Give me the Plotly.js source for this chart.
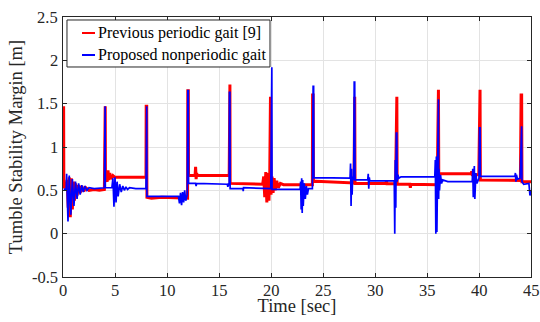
<!DOCTYPE html>
<html>
<head>
<meta charset="utf-8">
<script src="https://cdn.plot.ly/plotly-3.0.1.min.js"></script>
<style>html,body{margin:0;padding:0;background:#fff;}#chart{width:540px;height:322px;}</style>
</head>
<body>
<div id="chart"></div>
<script>
// Previous periodic gait [9] (red)
const prevTime = [0, 0.02, 0.06, 0.08, 0.3, 0.4, 0.5, 0.6, 0.7, 0.8, 0.9, 1.0, 1.1, 1.2, 1.35, 1.5, 1.65, 1.8, 2.0, 2.2, 2.5, 3.0, 3.5, 3.98,
  4.0, 4.06, 4.08, 4.25, 4.33, 4.4, 4.5, 4.6, 4.8, 5.0, 6.5, 7.98,
  8.0, 8.05, 8.07, 8.5, 9.5, 11.98,
  12.0, 12.05, 12.07, 12.7, 12.75, 12.8, 12.85, 12.9, 15.98,
  16.0, 16.05, 16.07, 17.5, 19.2, 19.3, 19.4, 19.5, 19.6, 19.7, 19.8, 19.88,
  19.9, 19.95, 20.0, 20.1, 20.2, 20.3, 20.4, 20.55, 20.7, 20.9, 21.2, 23.98,
  24.0, 24.05, 24.08, 24.3, 27.98,
  28.0, 28.05, 28.08, 31.05, 31.1, 31.15, 31.98,
  32.05, 32.1, 32.13, 33.35, 33.4, 33.45, 35.98,
  36.05, 36.1, 36.13, 39.25, 39.3, 39.35, 39.98,
  40.05, 40.1, 40.13, 43.98,
  44.05, 44.1, 44.13, 45];
const prevMargin = [0.52, 1.47, 1.47, 0.55, 0.53, 0.62, 0.3, 0.65, 0.19, 0.64, 0.28, 0.6, 0.38, 0.58, 0.44, 0.56, 0.47, 0.55, 0.49, 0.53, 0.5, 0.51, 0.5, 0.51,
  1.47, 1.47, 0.65, 0.6, 0.73, 0.62, 0.7, 0.63, 0.67, 0.65, 0.65, 0.65,
  1.47, 1.47, 0.42, 0.41, 0.42, 0.41,
  1.65, 1.65, 0.67, 0.67, 0.77, 0.63, 0.7, 0.67, 0.67,
  1.72, 1.72, 0.58, 0.575, 0.57, 0.66, 0.42, 0.71, 0.36, 0.7, 0.38, 0.68,
  1.58, 1.58, 0.45, 0.66, 0.47, 0.64, 0.5, 0.61, 0.53, 0.58, 0.565, 0.565,
  1.6, 1.6, 0.6, 0.605, 0.585,
  1.58, 1.58, 0.58, 0.58, 0.61, 0.575, 0.575,
  1.58, 1.58, 0.57, 0.57, 0.53, 0.57, 0.565,
  1.66, 1.66, 0.69, 0.69, 0.72, 0.68, 0.68,
  1.66, 1.66, 0.62, 0.615,
  1.6, 1.6, 0.6, 0.6];

// Proposed nonperiodic gait (blue)
const propTime = [0.08, 0.3, 0.35, 0.48, 0.6, 0.75, 0.9, 1.05, 1.2, 1.35, 1.5, 1.65, 1.8, 1.95, 2.1, 2.3, 2.5, 3.0, 3.98,
  4.0, 4.05, 4.07, 4.7, 4.8, 4.9, 5.0, 5.1, 5.2, 5.3, 5.45, 5.6, 5.75, 5.9, 6.05, 6.2, 6.4, 7.0, 7.98,
  8.0, 8.05, 8.07, 11.1, 11.2, 11.3, 11.4, 11.5, 11.6, 11.7, 11.8, 11.95,
  12.0, 12.05, 12.07, 12.75, 12.8, 12.85, 15.8, 15.85, 15.9, 15.98,
  16.0, 16.05, 16.07, 17.3, 17.33, 17.36, 19.98,
  20.03, 20.08, 20.1, 22.8, 22.85, 22.9, 22.95, 23.0, 23.05, 23.1, 23.2, 23.3, 23.4, 23.5, 23.6, 23.98,
  24.05, 24.1, 24.12, 27.6, 27.65, 27.7, 27.75, 27.8, 27.85, 27.95,
  28.0, 28.05, 28.08, 29.3, 29.35, 29.4, 29.45, 29.5, 31.85,
  31.9, 31.95, 32.0, 32.05, 32.1, 32.13, 32.2, 32.3, 32.5, 35.75,
  35.8, 35.85, 35.9, 35.95, 36.0, 36.05, 36.1, 36.12, 36.15, 36.2, 36.3, 36.4, 36.5, 37.0, 39.35,
  39.4, 39.45, 39.55, 39.6, 39.7, 39.8, 39.9, 40.0,
  40.05, 40.1, 40.13, 43.45, 43.5, 43.55, 43.6, 43.7, 43.95,
  44.05, 44.1, 44.13, 44.3, 44.8, 44.9, 45.0];
const propMargin = [0.52, 0.5, 0.69, 0.14, 0.67, 0.22, 0.63, 0.32, 0.6, 0.4, 0.58, 0.45, 0.56, 0.48, 0.55, 0.5, 0.53, 0.52, 0.53,
  1.47, 1.47, 0.53, 0.53, 0.64, 0.31, 0.65, 0.36, 0.6, 0.43, 0.57, 0.48, 0.55, 0.5, 0.54, 0.51, 0.53, 0.52, 0.52,
  1.47, 1.47, 0.43, 0.43, 0.35, 0.47, 0.33, 0.48, 0.36, 0.5, 0.38, 0.45,
  1.65, 1.65, 0.58, 0.58, 0.55, 0.58, 0.57, 0.54, 0.57, 0.565,
  1.63, 1.63, 0.52, 0.52, 0.49, 0.53, 0.52,
  1.92, 1.92, 0.51, 0.51, 0.6, 0.28, 0.64, 0.24, 0.62, 0.32, 0.58, 0.4, 0.55, 0.45, 0.52, 0.52,
  1.7, 1.7, 0.647, 0.64, 0.81, 0.32, 0.75, 0.45, 0.66, 0.62,
  1.75, 1.75, 0.62, 0.62, 0.69, 0.52, 0.65, 0.61, 0.61,
  0.0, 0.85, 0.3, 1.16, 1.16, 0.6, 0.68, 0.64, 0.655, 0.655,
  0.85, 0.0, 0.89, 0.02, 0.8, 1.55, 1.55, 0.4, 0.75, 0.5, 0.68, 0.58, 0.62, 0.6, 0.6,
  0.75, 0.42, 0.78, 0.4, 0.7, 0.58, 0.62, 0.64,
  1.22, 1.22, 0.66, 0.66, 0.7, 0.6, 0.68, 0.63, 0.64,
  1.24, 1.24, 0.6, 0.57, 0.58, 0.44, 0.5];

const xTicks = [0, 5, 10, 15, 20, 25, 30, 35, 40, 45];
const yTicks = [-0.5, 0, 0.5, 1, 1.5, 2, 2.5];
const yTickLabels = ['-0.5', '0', '0.5', '1', '1.5', '2', '2.5'];
const seriesNames = ['Previous periodic gait [9]', 'Proposed nonperiodic gait'];
const seriesColors = ['#ff0000', '#0000ff'];

const font = 'Liberation Serif';
const axisColor = '#262626';

const traces = [
  {x: prevTime, y: prevMargin, type: 'scatter', mode: 'lines', name: seriesNames[0],
   line: {color: seriesColors[0], width: 3}},
  {x: propTime, y: propMargin, type: 'scatter', mode: 'lines', name: seriesNames[1],
   line: {color: seriesColors[1], width: 1.7}}
];

function axisBase() {
  return {
    showline: true, linecolor: axisColor, linewidth: 1, mirror: 'ticks',
    ticks: 'inside', ticklen: 4, tickcolor: axisColor, tickwidth: 1,
    showgrid: true, gridcolor: '#e3e3e3', gridwidth: 1, zeroline: false,
    showticklabels: false
  };
}

const annotations = [];
xTicks.forEach(function (v) {
  annotations.push({x: v, xref: 'x', y: 0, yref: 'paper', yanchor: 'top', xanchor: 'center', yshift: -2,
    text: String(v), showarrow: false, font: {family: font, size: 16.5, color: axisColor}});
});
yTicks.forEach(function (v, i) {
  annotations.push({x: 0, xref: 'paper', y: v, yref: 'y', xanchor: 'right', yanchor: 'middle', xshift: -3,
    text: yTickLabels[i], showarrow: false, font: {family: font, size: 16.5, color: axisColor}});
});

// hand-built legend box (lines + labels taken from the traces)
const legendRows = [0.9385, 0.8538];
const shapes = [
  {type: 'rect', xref: 'paper', yref: 'paper', x0: 0.0085, x1: 0.4423, y0: 0.8077, y1: 0.9885,
   line: {color: axisColor, width: 1}, fillcolor: '#ffffff', layer: 'above'}
];
seriesNames.forEach(function (nm, i) {
  shapes.push({type: 'line', xref: 'paper', yref: 'paper', x0: 0.0406, x1: 0.0684, y0: legendRows[i], y1: legendRows[i],
    line: {color: seriesColors[i], width: 2}, layer: 'above'});
  annotations.push({x: 0.0705, xref: 'paper', y: legendRows[i], yref: 'paper', xanchor: 'left', yanchor: 'middle',
    text: nm, showarrow: false, font: {family: font, size: 16, color: '#000000'}});
});

const layout = {
  width: 540, height: 322,
  margin: {l: 63, r: 9, t: 17, b: 45},
  paper_bgcolor: '#ffffff', plot_bgcolor: '#ffffff',
  showlegend: false,
  shapes: shapes,
  annotations: annotations,
  xaxis: Object.assign(axisBase(), {
    range: [0, 45], tickvals: xTicks,
    title: {text: 'Time [sec]', font: {family: font, size: 18.5, color: axisColor}, standoff: 22}
  }),
  yaxis: Object.assign(axisBase(), {
    range: [-0.5, 2.5], tickvals: yTicks,
    title: {text: 'Tumble Stability Margin [m]', font: {family: font, size: 18.5, color: axisColor}, standoff: 34}
  })
};

Plotly.newPlot('chart', traces, layout, {displayModeBar: false, staticPlot: true});
</script>
</body>
</html>
